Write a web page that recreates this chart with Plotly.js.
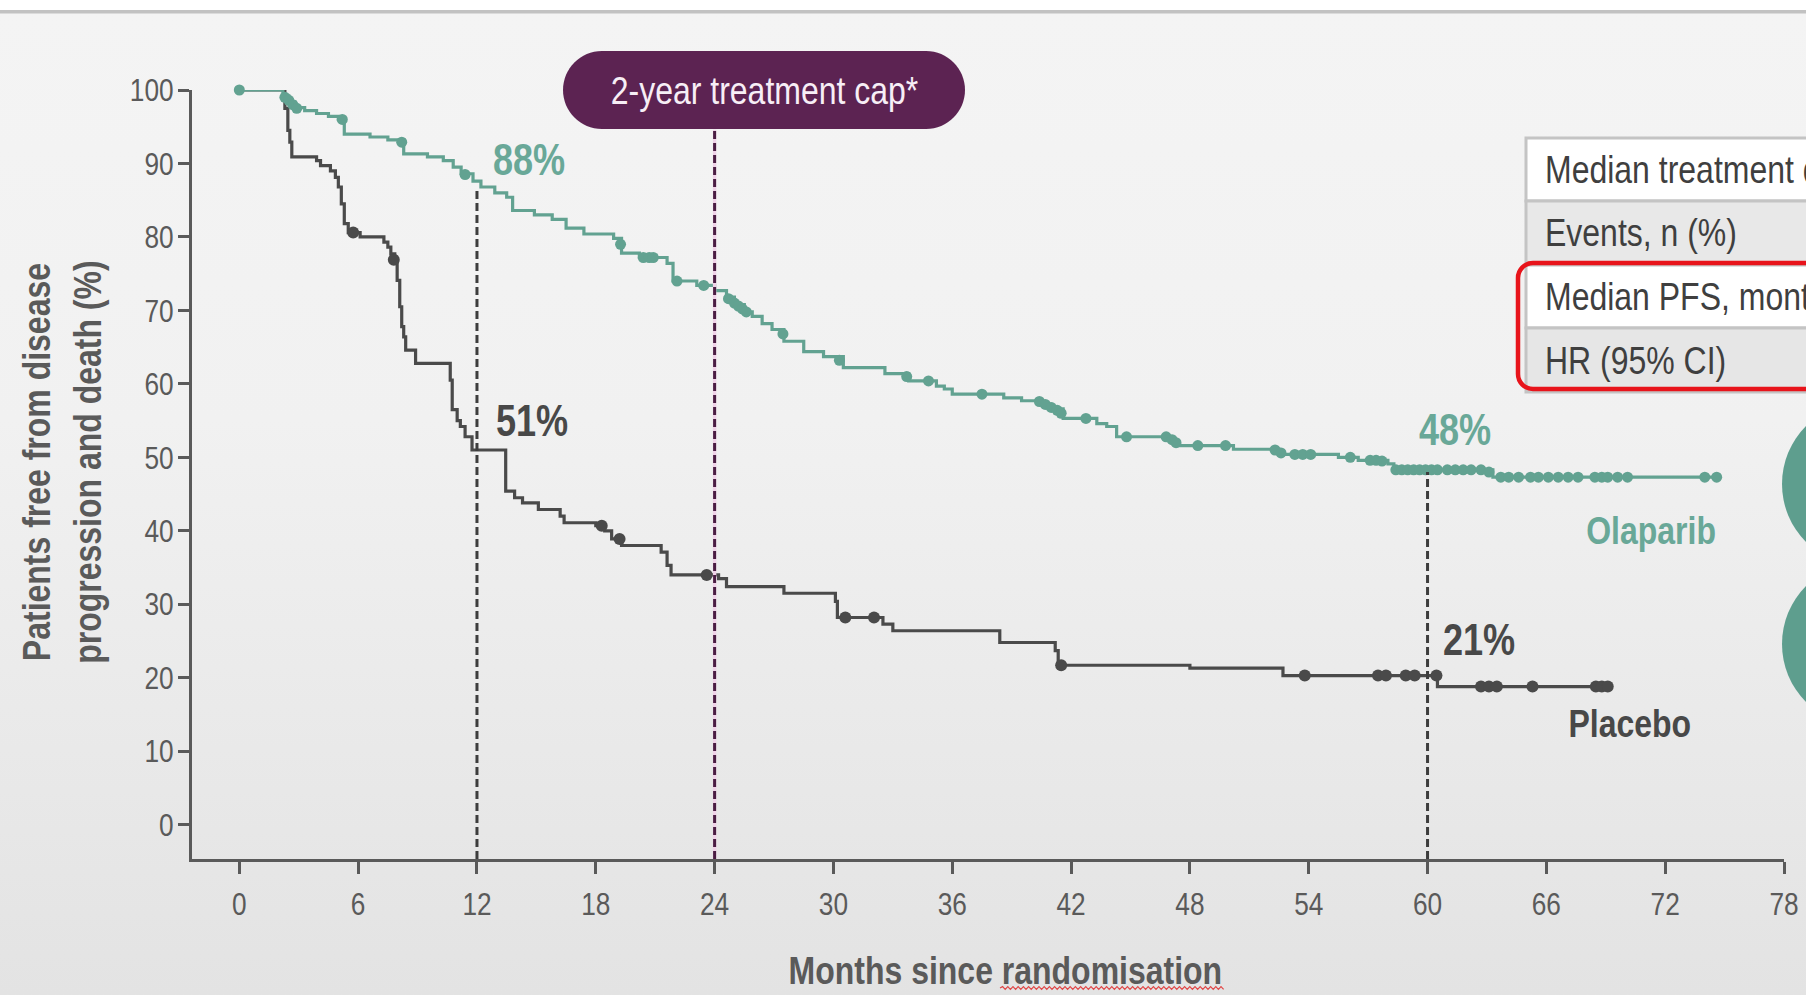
<!DOCTYPE html>
<html><head><meta charset="utf-8">
<script src="https://cdn.plot.ly/plotly-3.0.1.min.js"></script>
<style>
html,body{margin:0;padding:0;width:1806px;height:995px;overflow:hidden;}
body{background:linear-gradient(to bottom,#ffffff 0px,#ffffff 10px,#c2c2c2 10px,#c2c2c2 13px,#f4f4f4 14px,#f1f1f1 420px,#e3e3e3 995px);}
#chart{width:1806px;height:995px;}
</style></head><body><div id="chart"></div>
<script>
// ---- data ----
const xTicks = [0,6,12,18,24,30,36,42,48,54,60,66,72,78];
const yTicks = [0,10,20,30,40,50,60,70,80,90,100];

const olapT = [0,2.2,2.5,2.8,3.3,3.9,4.5,5.0,5.3,6.6,7.5,8.3,9.5,10.3,10.8,11.2,11.8,12.2,12.9,13.5,13.8,14.9,15.8,16.5,17.4,18.9,19.3,20.2,21.6,21.9,23.1,24.0,24.6,25.0,25.5,25.9,26.4,26.9,27.5,28.5,29.5,30.5,32.6,33.8,35.2,35.6,36.0,38.6,39.5,40.5,41.0,41.6,43.3,43.8,44.3,47.0,47.4,50.2,52.5,55.5,56.5,58.0,58.3,63.3,74.7];
const olapS = [100,99.2,98.4,97.6,97.2,96.8,96.4,96.0,94.0,93.6,93.2,91.3,90.9,90.4,89.5,88.6,87.6,86.8,86.0,85.4,83.6,83.0,82.4,81.2,80.4,79.8,77.8,77.2,76.4,74.0,73.4,72.7,71.8,70.8,69.8,69.2,68.2,67.4,65.8,64.4,63.7,62.2,61.4,60.4,59.7,59.3,58.6,58.1,57.7,57.2,56.6,55.3,54.6,54.2,52.8,52.2,51.6,51.1,50.4,50.0,49.6,49.1,48.3,47.3,47.3];
const olapCensT = [0,2.3,2.5,2.7,2.9,5.2,8.2,11.4,19.25,20.4,20.7,20.9,22.1,23.45,24.7,25.0,25.2,25.4,25.6,27.45,30.3,33.7,34.8,37.5,40.4,40.7,41.0,41.3,41.5,42.75,44.8,46.8,47.1,47.3,48.4,49.8,52.3,52.6,53.3,53.7,54.1,56.1,57.1,57.4,57.7,58.4,58.7,59.0,59.3,59.6,59.9,60.2,60.5,61.0,61.4,61.8,62.2,62.7,63.1,63.7,64.1,64.6,65.2,65.6,66.1,66.6,67.1,67.6,68.45,68.8,69.1,69.6,70.1,74.0,74.6];
const olapCensS = [100,99.0,98.6,98.0,97.5,96.0,92.9,88.5,79.0,77.2,77.2,77.2,74.0,73.4,71.6,71.0,70.6,70.2,69.8,66.8,63.2,61.0,60.4,58.6,57.6,57.2,56.8,56.4,56.0,55.3,52.8,52.8,52.4,52.0,51.6,51.6,51.0,50.6,50.4,50.4,50.4,50.0,49.6,49.6,49.5,48.3,48.3,48.3,48.3,48.3,48.3,48.3,48.3,48.3,48.3,48.3,48.3,48.3,48.0,47.3,47.3,47.3,47.3,47.3,47.3,47.3,47.3,47.3,47.3,47.3,47.3,47.3,47.3,47.3,47.3];

const placT = [0,2.3,2.45,2.55,2.65,3.9,4.1,4.6,4.85,5.0,5.15,5.3,5.5,6.1,7.3,7.5,7.65,7.85,7.97,8.1,8.2,8.3,8.4,8.9,10.65,10.75,11.0,11.16,11.4,11.75,13.45,13.9,14.3,15.1,16.2,16.4,18.0,18.45,18.8,19.3,21.3,21.6,21.8,24.2,24.6,27.5,30.1,30.2,32.5,33.0,38.4,41.2,41.35,48.0,52.7,60.5,69.1];
const placS = [100,97.5,94.5,92.9,90.9,90.4,89.7,89.0,88.1,86.8,84.5,81.8,80.6,80.0,79.3,78.6,77.7,76.5,74.1,70.5,67.8,66.4,64.6,62.8,60.5,56.5,55.0,54.2,52.8,51.0,45.4,44.5,43.8,42.9,42.0,41.1,40.7,40.0,38.9,38.0,37.1,35.3,34.0,33.5,32.4,31.5,30.4,28.2,27.3,26.4,24.8,23.7,21.7,21.3,20.3,18.8,18.8];
const placCensT = [5.75,7.8,18.3,19.2,23.6,30.6,32.05,41.5,53.8,57.5,57.9,58.9,59.35,60.45,62.7,63.1,63.5,65.3,68.5,68.8,69.1];
const placCensS = [80.6,76.9,40.7,38.9,34.0,28.2,28.2,21.7,20.3,20.3,20.3,20.3,20.3,20.3,18.8,18.8,18.8,18.8,18.8,18.8,18.8];

const landmarkX = [12, 24, 60];
const landmarkTop = [86.8, 94.6, 48.0];
const pctLabels = ['88%','51%','48%','21%'];
const tableRows = ['Median treatment duration, months','Events, n (%)','Median PFS, months','HR (95% CI)'];

// ---- style ----
const FONT = "'Liberation Sans',Arial,sans-serif";
const NARROW = 0.82; // Arial-Narrow-like condensing
const TEAL = '#62a291', TEAL_T = '#69a898', GREY = '#4a4a4a', AX = '#5a5a5a';
const W=1806,H=995,L=192,R=22,T=90,B=136;
const PW=W-L-R, PH=H-T-B;
const px = x => (x-L)/PW;
const py = y => (H-B-y)/PH;
const YMIN = -4.67;

function rr(x0,y0,x1,y1,r){
  const k=0.5523, c=r*k, P=(x,y)=>px(x)+','+py(y);
  return 'M'+P(x0+r,y0)+' L'+P(x1-r,y0)+' C'+P(x1-r+c,y0)+' '+P(x1,y0+r-c)+' '+P(x1,y0+r)+
    ' L'+P(x1,y1-r)+' C'+P(x1,y1-r+c)+' '+P(x1-r+c,y1)+' '+P(x1-r,y1)+
    ' L'+P(x0+r,y1)+' C'+P(x0+r-c,y1)+' '+P(x0,y1-r+c)+' '+P(x0,y1-r)+
    ' L'+P(x0,y0+r)+' C'+P(x0,y0+r-c)+' '+P(x0+r-c,y0)+' '+P(x0+r,y0)+' Z';
}
function squiggle(x0,x1,y,amp,step){
  let s='M'+px(x0)+','+py(y); let up=true;
  for(let x=x0+step;x<=x1;x+=step){ s+=' L'+px(x)+','+py(y+(up?-amp:amp)); up=!up; }
  return s;
}

const traces = [
  {x:placT,y:placS,mode:'lines',line:{shape:'hv',color:GREY,width:3.2},cliponaxis:false,hoverinfo:'skip'},
  {x:placCensT,y:placCensS,mode:'markers',marker:{color:GREY,size:12},cliponaxis:false,hoverinfo:'skip'},
  {x:olapT,y:olapS,mode:'lines',line:{shape:'hv',color:TEAL,width:3.2},cliponaxis:false,hoverinfo:'skip'},
  {x:olapCensT,y:olapCensS,mode:'markers',marker:{color:TEAL,size:11},cliponaxis:false,hoverinfo:'skip'}
];

const shapes = [];
shapes.push({type:'line',xref:'x',yref:'y',x0:landmarkX[0],x1:landmarkX[0],y0:YMIN,y1:landmarkTop[0],line:{color:'#3d3d3d',width:3,dash:'8px,4px'}});
shapes.push({type:'line',xref:'x',yref:'y',x0:landmarkX[1],x1:landmarkX[1],y0:YMIN,y1:landmarkTop[1],line:{color:'#efd2e8',width:3.4}});
shapes.push({type:'line',xref:'x',yref:'y',x0:landmarkX[1],x1:landmarkX[1],y0:YMIN,y1:landmarkTop[1],line:{color:'#4a1d43',width:3,dash:'8px,4px'}});
shapes.push({type:'line',xref:'x',yref:'y',x0:landmarkX[2],x1:landmarkX[2],y0:YMIN,y1:landmarkTop[2],line:{color:'#3d3d3d',width:3,dash:'8px,4px'}});
shapes.push({type:'path',xref:'paper',yref:'paper',path:rr(563,51,965,129,39),fillcolor:'#5c2352',line:{width:0}});
const rowY=[138,201,265,328,392];
const rowFill=['#ffffff','#e8e8e8','#ffffff','#e6e6e6'];
for(let i=0;i<4;i++){
  shapes.push({type:'rect',xref:'paper',yref:'paper',x0:px(1526),x1:px(1840),y0:py(rowY[i]),y1:py(rowY[i+1]),fillcolor:rowFill[i],line:{color:'#c4c4c4',width:3}});
}
shapes.push({type:'path',xref:'paper',yref:'paper',path:rr(1518,263,1850,389,15),fillcolor:'rgba(0,0,0,0)',line:{color:'#e8141b',width:4.5}});
[484,644].forEach(cy=>shapes.push({type:'circle',xref:'paper',yref:'paper',x0:px(1782),x1:px(1946),y0:py(cy+82),y1:py(cy-82),fillcolor:'#5e9e8e',line:{width:0}}));
shapes.push({type:'path',xref:'paper',yref:'paper',path:squiggle(1000,1224,988,1.4,2.6),line:{color:'#e04848',width:1.2}});

const ann = [];
ann.push({xref:'paper',yref:'paper',x:px(62),y:py(462),text:'<b>Patients free from disease<br>progression and death (%)</b>',textangle:-90,showarrow:false,xanchor:'center',yanchor:'middle',font:{family:FONT,size:39,color:AX}});
ann.push({xref:'paper',yref:'paper',x:px(1005),y:py(970),text:'<b>Months since randomisation</b>',showarrow:false,xanchor:'center',yanchor:'middle',font:{family:FONT,size:39,color:AX}});
ann.push({xref:'paper',yref:'paper',x:px(764),y:py(90),text:'2-year treatment cap*',showarrow:false,xanchor:'center',yanchor:'middle',font:{family:FONT,size:39,color:'#f7eef6'}});
const pctX=[14.65,14.77,61.4,62.6], pctY=[90.6,55.0,53.8,25.2], pctC=[TEAL_T,'#484848',TEAL_T,'#484848'];
for(let i=0;i<4;i++) ann.push({x:pctX[i],y:pctY[i],text:'<b>'+pctLabels[i]+'</b>',showarrow:false,xanchor:'center',yanchor:'middle',font:{family:FONT,size:44,color:pctC[i]}});
ann.push({x:71.3,y:40.1,text:'<b>Olaparib</b>',showarrow:false,xanchor:'center',yanchor:'middle',font:{family:FONT,size:39,color:TEAL_T}});
ann.push({x:70.2,y:13.8,text:'<b>Placebo</b>',showarrow:false,xanchor:'center',yanchor:'middle',font:{family:FONT,size:39,color:'#484848'}});
for(let i=0;i<4;i++) ann.push({xref:'paper',yref:'paper',x:px(1543),y:py((rowY[i]+rowY[i+1])/2),text:tableRows[i],showarrow:false,xanchor:'left',yanchor:'middle',align:'left',font:{family:FONT,size:39,color:'#3f3f3f'}});

const layout = {
  width:W,height:H,margin:{l:L,r:R,t:T,b:B,pad:0},
  paper_bgcolor:'rgba(0,0,0,0)',plot_bgcolor:'rgba(0,0,0,0)',showlegend:false,
  xaxis:{range:[-2.39,78],tickvals:xTicks,ticktext:xTicks.map(String),ticks:'outside',ticklen:12,tickwidth:3,tickcolor:AX,
    showline:true,linewidth:3,linecolor:AX,showgrid:false,zeroline:false,ticklabelstandoff:3,
    tickfont:{family:FONT,size:32,color:AX},fixedrange:true},
  yaxis:{range:[YMIN,100],tickvals:yTicks,ticktext:yTicks.map(String),ticks:'outside',ticklen:11,tickwidth:3,tickcolor:AX,
    showline:true,linewidth:3,linecolor:AX,showgrid:false,zeroline:false,ticklabelstandoff:-2,
    tickfont:{family:FONT,size:32,color:AX},fixedrange:true},
  shapes:shapes,annotations:ann
};
Plotly.newPlot('chart',traces,layout,{displayModeBar:false,staticPlot:true}).then(gd=>{
  // condense all texts horizontally to mimic a narrow typeface
  gd.querySelectorAll('svg text').forEach(t=>{
    const lines = t.querySelectorAll('tspan.line');
    const targets = lines.length ? Array.from(lines) : [t];
    targets.forEach(el=>{
      const w = el.getComputedTextLength();
      if (w>0){ el.setAttribute('textLength',(w*NARROW).toFixed(2)); el.setAttribute('lengthAdjust','spacingAndGlyphs'); }
    });
  });
});
</script></body></html>
